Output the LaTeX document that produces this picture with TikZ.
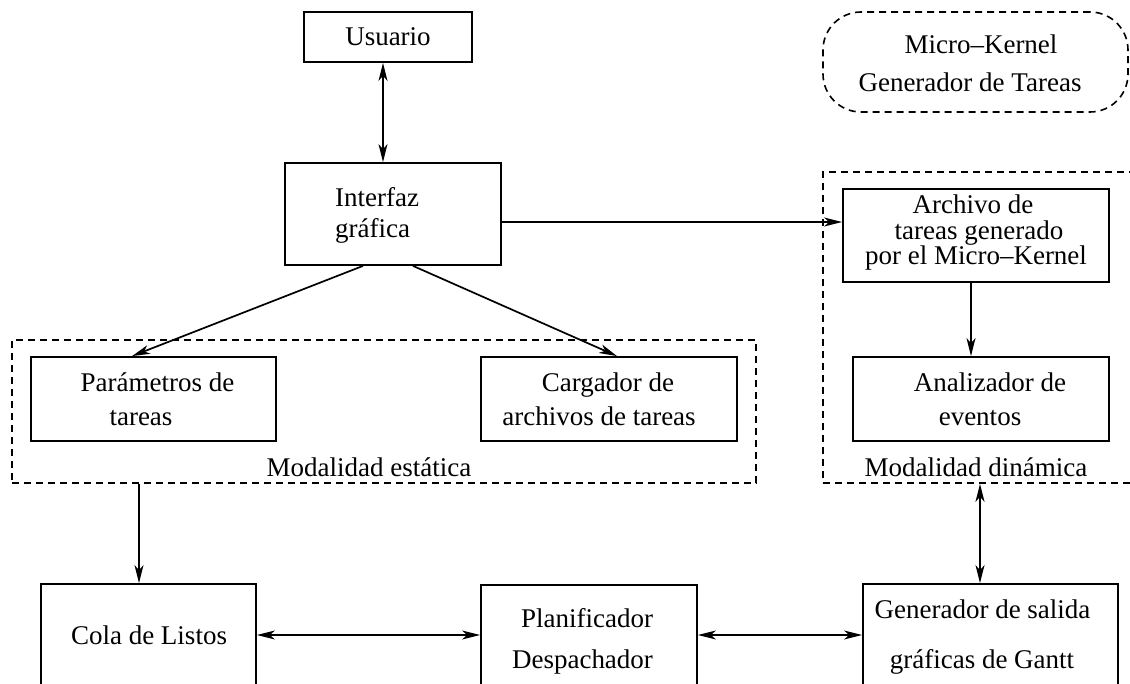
\documentclass[tikz,border=0pt]{standalone}
\usepackage{fontspec}
\setmainfont{Liberation Serif}
\usetikzlibrary{arrows.meta}
\begin{document}
\begin{tikzpicture}[x=1pt,y=-1pt,
  box/.style={draw, line width=1.8pt, rectangle, inner sep=0pt},
  group/.style={draw, line width=1.6pt, dash pattern=on 7pt off 5pt, rectangle, inner sep=0pt},
  txt/.style={inner sep=0pt, font=\fontsize{27}{32}\selectfont, text height=18pt, text depth=0pt},
  tip/.tip={Stealth[length=18pt,width=9pt,inset=5pt]},
  link/.style={line width=1.7pt, -tip},
  dlink/.style={line width=1.7pt, tip-tip},
]
\useasboundingbox (0,0) rectangle (1130,684);
\clip (0,0) rectangle (1130,684);

% grouping frames
\node[group, minimum width=744pt, minimum height=143pt] (static) at (384,411.5) {};
\node[group, minimum width=337pt, minimum height=311pt] (dyn) at (991.5,327.5) {};
\node[group, rounded corners=38pt, minimum width=305pt, minimum height=100pt] (mk) at (975.5,62) {};

% boxes
\node[box, minimum width=168pt, minimum height=50pt]  (usr)   at (388,37) {};
\node[box, minimum width=216pt, minimum height=102pt] (gui)   at (393,214) {};
\node[box, minimum width=245pt, minimum height=84pt]  (par)   at (153.5,399) {};
\node[box, minimum width=256pt, minimum height=84pt]  (car)   at (609,399) {};
\node[box, minimum width=266pt, minimum height=93pt]  (arc)   at (976,235.5) {};
\node[box, minimum width=256pt, minimum height=84pt]  (ana)   at (981,399) {};
\node[box, minimum width=215pt, minimum height=136pt] (cola)  at (148.5,652) {};
\node[box, minimum width=216pt, minimum height=135pt] (plan)  at (589,652.5) {};
\node[box, minimum width=255pt, minimum height=136pt] (gantt) at (990.5,652) {};

% labels
\node[txt] (tusr) at (388,37) {Usuario};
\node[txt, anchor=west] (tgui1) at (335,198) {Interfaz};
\node[txt, anchor=west] (tgui2) at (335,229) {gráfica};
\node[txt] (tmk1) at (981,45) {Micro\textendash Kernel};
\node[txt] (tmk2) at (970,83) {Generador de Tareas};
\node[txt] (tarc1) at (973,205) {Archivo de};
\node[txt] (tarc2) at (979,231) {tareas generado};
\node[txt] (tarc3) at (976,256) {por el Micro\textendash Kernel};
\node[txt] (tpar1) at (157.5,383) {Parámetros de};
\node[txt] (tpar2) at (141,417) {tareas};
\node[txt] (tcar1) at (608,383) {Cargador de};
\node[txt] (tcar2) at (599,417) {archivos de tareas};
\node[txt] (tana1) at (990,383) {Analizador de};
\node[txt] (tana2) at (980,417) {eventos};
\node[txt] (tstatic) at (369,467) {Modalidad estática};
\node[txt] (tdyn) at (976,467) {Modalidad dinámica};
\node[txt] (tcola) at (149,635) {Cola de Listos};
\node[txt] (tplan1) at (587,618) {Planificador};
\node[txt] (tplan2) at (582.5,659) {Despachador};
\node[txt] (tgan1) at (982.5,609) {Generador de salida};
\node[txt] (tgan2) at (982,659) {gráficas de Gantt};

% connector positions
\coordinate (xusr) at (383,0);
\coordinate (ygui) at (0,222);
\coordinate (xguiL) at (363,0);
\coordinate (xguiR) at (413,0);
\coordinate (xpar) at (132,0);
\coordinate (xcar) at (617,0);
\coordinate (xarc) at (971,0);
\coordinate (xcola) at (139,0);
\coordinate (ybot) at (0,635);
\coordinate (xgan) at (980,0);

% connectors
\draw[dlink] (usr.south -| xusr) -- (gui.north -| xusr);
\draw[link] (gui.east |- ygui) -- (arc.west |- ygui);
\draw[link] (gui.south -| xguiL) -- (par.north -| xpar);
\draw[link] (gui.south -| xguiR) -- (car.north -| xcar);
\draw[link] (arc.south -| xarc) -- (ana.north -| xarc);
\draw[link] (static.south -| xcola) -- (cola.north -| xcola);
\draw[dlink] (cola.east |- ybot) -- (plan.west |- ybot);
\draw[dlink] (plan.east |- ybot) -- (gantt.west |- ybot);
\draw[dlink] (dyn.south -| xgan) -- (gantt.north -| xgan);
\end{tikzpicture}
\end{document}
